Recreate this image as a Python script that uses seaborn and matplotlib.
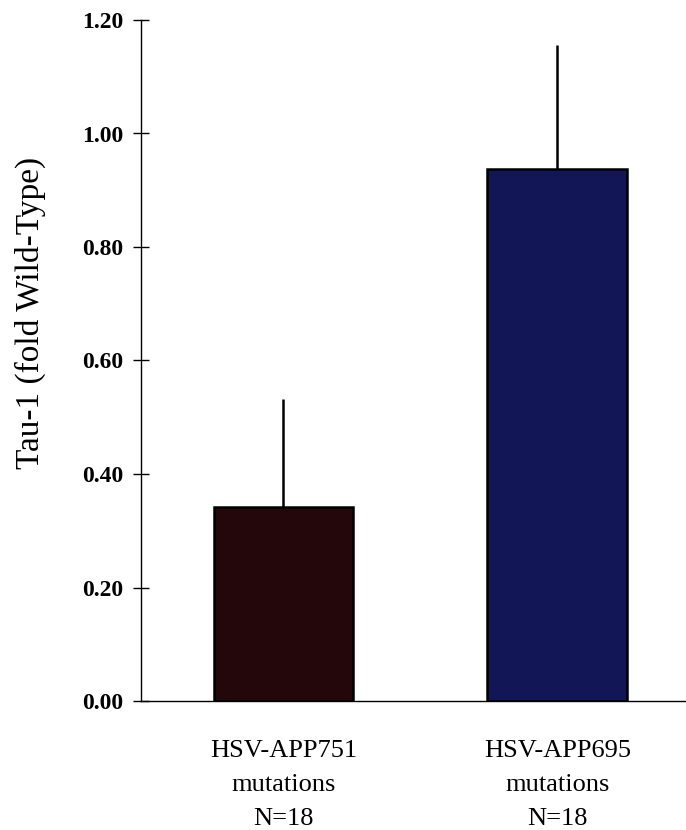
import matplotlib
matplotlib.use("Agg")
import matplotlib.pyplot as plt
import seaborn as sns
import pandas as pd

categories = ["HSV-APP751\nmutations\nN=18", "HSV-APP695\nmutations\nN=18"]
values = [0.342, 0.937]
errors = [0.190, 0.219]
colors = ["#24070a", "#121656"]
yticks = [0.0, 0.2, 0.4, 0.6, 0.8, 1.0, 1.2]
ylabel = "Tau-1 (fold Wild-Type)"

sns.set_theme(style="white")
plt.rcParams["font.family"] = ["Liberation Serif", "DejaVu Serif"]
plt.rcParams["text.color"] = "black"
plt.rcParams["xtick.labelcolor"] = "black"
plt.rcParams["ytick.labelcolor"] = "black"

df = pd.DataFrame({"cat": categories, "val": values})

fig = plt.figure(figsize=(6.86, 8.30), dpi=100)
ax = fig.add_axes([141/686, 1 - 701/830, 1 - 141/686, (701 - 20)/830])

sns.barplot(data=df, x="cat", y="val", hue="cat", palette=colors, legend=False,
            saturation=1, width=0.51, edgecolor="black", linewidth=1.8,
            errorbar=None, ax=ax, zorder=2)

ax.errorbar(range(len(values)), values, yerr=[[0]*len(errors), errors],
            fmt="none", ecolor="black", elinewidth=1.8, capsize=0, zorder=1)

ax.set_xlim(-0.52, 1.47)
ax.set_ylim(0, 1.2)
ax.set_yticks(yticks)
ax.set_yticklabels([f"{t:.2f}" for t in yticks], fontsize=17, fontweight="bold", color="black")
ax.tick_params(axis="y", direction="inout", length=11, width=1, pad=7, color="black",
               labelcolor="black", left=True)
ax.tick_params(axis="x", length=0, pad=28, labelcolor="black")
for lab in ax.get_xticklabels():
    lab.set_fontsize(19)
    lab.set_linespacing(1.7)
    lab.set_verticalalignment("top")

ax.set_xlabel("")
ax.set_ylabel("")
fig.text(30/686, 1 - 313/830, ylabel, rotation=90, fontsize=24,
         ha="center", va="center", color="black")

for s in ["top", "right"]:
    ax.spines[s].set_visible(False)
for s in ["left", "bottom"]:
    ax.spines[s].set_color("black")
    ax.spines[s].set_linewidth(1.0)

fig.savefig("out.png", dpi=100)
